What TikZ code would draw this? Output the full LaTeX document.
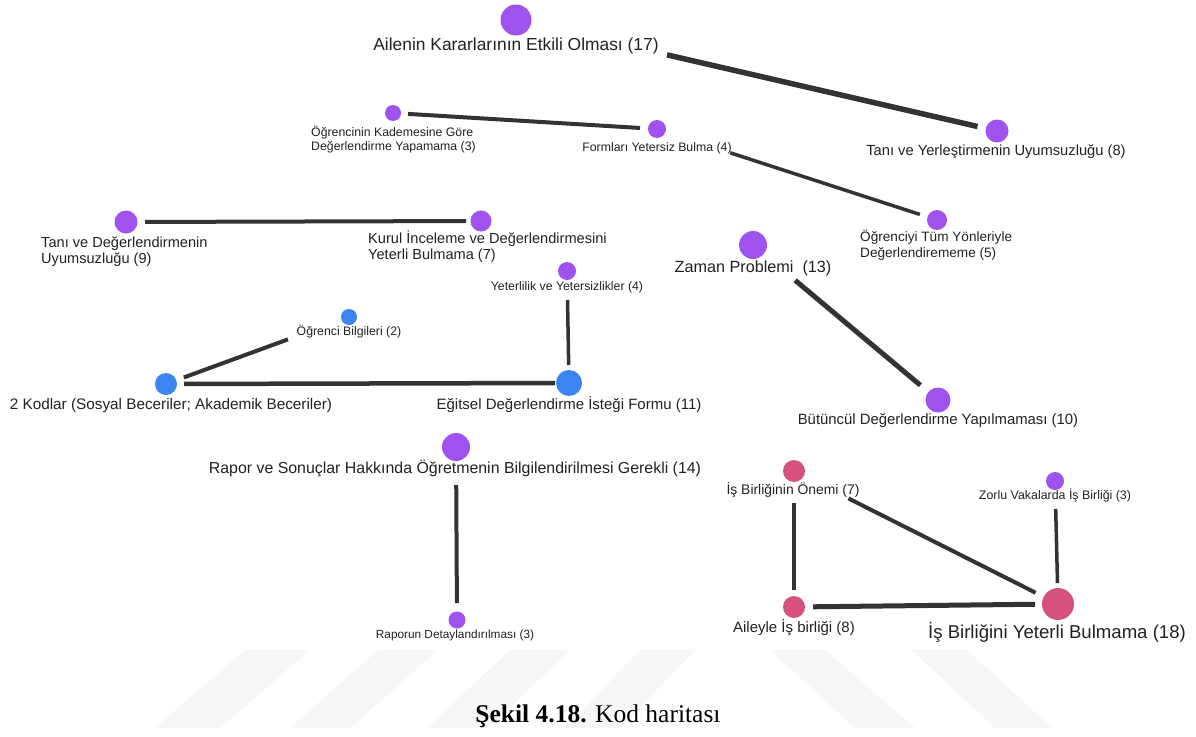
\documentclass[tikz,border=0pt]{standalone}
\usepackage{fontspec}
\setmainfont{Liberation Sans}
\newfontfamily\capfont{Liberation Serif}
\definecolor{pcol}{HTML}{A052EE}
\definecolor{bcol}{HTML}{3A85F2}
\definecolor{rcol}{HTML}{D6527E}
\definecolor{ecol}{HTML}{333333}
\definecolor{tcol}{HTML}{222222}
\definecolor{wcol}{HTML}{F6F6F6}
\newcommand\fs[2]{\fontsize{#1}{#2}\selectfont}
\begin{document}
\begin{tikzpicture}[x=1pt,y=-1pt,
  dot/.style={circle,inner sep=0pt,draw=none},
  pdot/.style={dot,fill=pcol},
  bdot/.style={dot,fill=bcol},
  rdot/.style={dot,fill=rcol},
  lab/.style={anchor=base,inner sep=0pt,text=tcol},
  labw/.style={anchor=base west,inner sep=0pt,text=tcol},
  edge/.style={draw=ecol,line width=#1}]
\useasboundingbox (0,0) rectangle (1196,736);
\fill[white] (0,0) rectangle (1196,736);
% watermark stripes
\fill[wcol] (155,728) -- (220,728) -- (310,650) -- (245,650) -- cycle;
\fill[wcol] (290,728) -- (350,728) -- (438,650) -- (378,650) -- cycle;
\fill[wcol] (427,728) -- (488,728) -- (570,650) -- (510,650) -- cycle;
\fill[wcol] (565,728) -- (620,728) -- (695,650) -- (640,650) -- cycle;
\fill[wcol] (770,650) -- (825,650) -- (915,728) -- (855,728) -- cycle;
\fill[wcol] (912,650) -- (967,650) -- (1052,728) -- (995,728) -- cycle;
% circles
\node[pdot,minimum size=31pt] (n1) at (516,20) {};
\node[pdot,minimum size=23pt] (n2) at (997,131) {};
\node[pdot,minimum size=16pt] (n3) at (393,113) {};
\node[pdot,minimum size=18pt] (n4) at (657,129) {};
\node[pdot,minimum size=20pt] (n5) at (937,220) {};
\node[pdot,minimum size=23pt] (n6) at (126,222) {};
\node[pdot,minimum size=21pt] (n7) at (481,221) {};
\node[pdot,minimum size=18pt] (n8) at (567,271) {};
\node[bdot,minimum size=26pt] (n9) at (569,383) {};
\node[bdot,minimum size=16pt] (n10) at (349,317) {};
\node[bdot,minimum size=22pt] (n11) at (166,384) {};
\node[pdot,minimum size=28pt] (n12) at (753,245) {};
\node[pdot,minimum size=25pt] (n13) at (938,400) {};
\node[pdot,minimum size=28pt] (n14) at (456,447) {};
\node[pdot,minimum size=17pt] (n15) at (457,620) {};
\node[rdot,minimum size=22pt] (n16) at (794,471) {};
\node[pdot,minimum size=18pt] (n17) at (1055,481) {};
\node[rdot,minimum size=22pt] (n18) at (794,607) {};
\node[rdot,minimum size=32pt] (n19) at (1058,604) {};
% labels
\node[lab,font=\fs{17.4}{20}] (l1) at (516,50) {Ailenin Kararlarının Etkili Olması (17)};
\node[lab,font=\fs{14.7}{17}] (l2) at (996,155) {Tanı ve Yerleştirmenin Uyumsuzluğu (8)};
\node[labw,font=\fs{12.3}{14}] (l3) at (311,136) {\begin{tabular}[t]{@{}l@{}}Öğrencinin Kademesine Göre\\Değerlendirme Yapamama (3)\end{tabular}};
\node[lab,font=\fs{12.3}{14}] (l4) at (657,151) {Formları Yetersiz Bulma (4)};
\node[labw,font=\fs{13.6}{16.5}] (l5) at (860,241) {\begin{tabular}[t]{@{}l@{}}Öğrenciyi Tüm Yönleriyle\\Değerlendirememe (5)\end{tabular}};
\node[labw,font=\fs{14.6}{16.3}] (l6) at (41,247) {\begin{tabular}[t]{@{}l@{}}Tanı ve Değerlendirmenin\\Uyumsuzluğu (9)\end{tabular}};
\node[labw,font=\fs{14.6}{16.3}] (l7) at (368,243) {\begin{tabular}[t]{@{}l@{}}Kurul İnceleme ve Değerlendirmesini\\Yeterli Bulmama (7)\end{tabular}};
\node[lab,font=\fs{12.3}{14}] (l8) at (567,290) {Yeterlilik ve Yetersizlikler (4)};
\node[lab,font=\fs{15}{17}] (l9) at (569,409) {Eğitsel Değerlendirme İsteği Formu (11)};
\node[lab,font=\fs{12.3}{14}] (l10) at (349,335) {Öğrenci Bilgileri (2)};
\node[lab,font=\fs{15.3}{17}] (l11) at (171,409) {2 Kodlar (Sosyal Beceriler; Akademik Beceriler)};
\node[lab,font=\fs{16.2}{19}] (l12) at (753,272) {Zaman Problemi\ \ (13)};
\node[lab,font=\fs{14.9}{17}] (l13) at (938,424) {Bütüncül Değerlendirme Yapılmaması (10)};
\node[lab,font=\fs{15.9}{18}] (l14) at (455,473) {Rapor ve Sonuçlar Hakkında Öğretmenin Bilgilendirilmesi Gerekli (14)};
\node[lab,font=\fs{11.8}{14}] (l15) at (455,638) {Raporun Detaylandırılması (3)};
\node[lab,font=\fs{13.9}{16}] (l16) at (793,494) {İş Birliğinin Önemi (7)};
\node[lab,font=\fs{12.4}{14}] (l17) at (1055,499) {Zorlu Vakalarda İş Birliği (3)};
\node[lab,font=\fs{15}{17}] (l18) at (794,632) {Aileyle İş birliği (8)};
\node[lab,font=\fs{18.6}{21}] (l19) at (1057,638) {İş Birliğini Yeterli Bulmama (18)};
% edges
\draw[edge=5.5pt,shorten <=155pt,shorten >=20pt] (n1.center) -- (n2.center);
\draw[edge=4pt,shorten <=15pt,shorten >=17pt] (n3.center) -- (n4.center);
\draw[edge=3.5pt,shorten <=77pt,shorten >=18pt] (n4.center) -- (n5.center);
\draw[edge=4pt,shorten <=19pt,shorten >=15pt] (n6.center) -- (n7.center);
\draw[edge=3.5pt,shorten <=29pt,shorten >=18pt] (n8.center) -- (n9.center);
\draw[edge=4pt,shorten <=65pt,shorten >=19pt] (n10.center) -- (n11.center);
\draw[edge=4.5pt,shorten <=18pt,shorten >=14pt] (n11.center) -- (n9.center);
\draw[edge=5pt,shorten <=55pt,shorten >=23pt] (n12.center) -- (n13.center);
\draw[edge=4pt,shorten <=38pt,shorten >=17pt] (n14.center) -- (n15.center);
\draw[edge=4pt,shorten <=32pt,shorten >=17pt] (n16.center) -- (n18.center);
\draw[edge=4pt,shorten <=61pt,shorten >=25pt] (n16.center) -- (n19.center);
\draw[edge=3.5pt,shorten <=28pt,shorten >=21pt] (n17.center) -- (n19.center);
\draw[edge=5pt,shorten <=19pt,shorten >=23pt] (n18.center) -- (n19.center);
% caption
\node[lab,font=\capfont\fs{25.5}{30},text=black] (cap) at (598,722) {\textbf{Şekil 4.18.} Kod haritası};
\end{tikzpicture}
\end{document}
